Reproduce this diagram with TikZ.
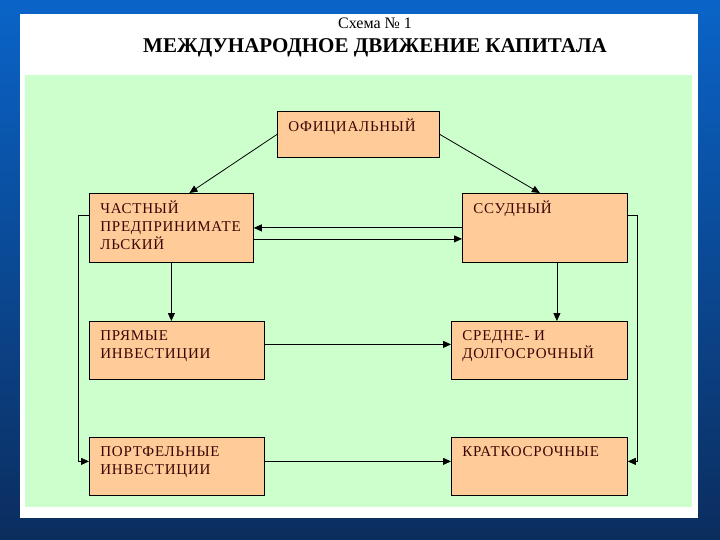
\documentclass[tikz,border=0pt]{standalone}
\usepackage{fontspec}
\setmainfont{Liberation Serif}
\newfontfamily\shriftblok[LetterSpace=5]{Liberation Serif}
\usepackage{xcolor}
\usepackage{tikz}
\usetikzlibrary{arrows.meta,calc}
\definecolor{sinii}{HTML}{0A64C8}
\definecolor{temnosinii}{HTML}{0B2D5E}
\definecolor{zelenyi}{HTML}{CCFFCC}
\definecolor{persik}{HTML}{FFCC99}
\definecolor{bordo}{HTML}{3A0505}
\newcommand{\yach}[3]{\parbox[c][#2][t]{#1}{\rule{0pt}{12pt}#3}}

\begin{document}
\begin{tikzpicture}[x=1pt,y=-1pt,
  blok/.style={draw=black,fill=persik,line width=0.8pt,anchor=north west,
               inner xsep=11pt,inner ysep=7pt,text=bordo,
               font={\shriftblok\fontsize{15}{18}\selectfont}},
  strelka/.style={-{Triangle[length=8pt,width=7pt]},line width=0.8pt}
]
% fon
\useasboundingbox (0,0) rectangle (720,540);
\shade[top color=sinii,bottom color=temnosinii] (0,0) rectangle (720,540);
\fill[white] (20,14) rectangle (698,518);
\fill[zelenyi] (25,75) rectangle (692,507);
\node[font=\fontsize{16}{18}\selectfont,anchor=base] (nomer) at (375,29) {Схема № 1};
\node[font=\bfseries\fontsize{21}{24}\selectfont,anchor=base] (zagolovok) at (375,53) {МЕЖДУНАРОДНОЕ ДВИЖЕНИЕ КАПИТАЛА};

% bloki
\node[blok] (ofic) at (277,111) {\yach{140pt}{32pt}{ОФИЦИАЛЬНЫЙ}};
\node[blok] (chast) at (89,193) {\yach{142pt}{55pt}{ЧАСТНЫЙ\\ПРЕДПРИНИМАТЕ\\ЛЬСКИЙ}};
\node[blok] (ssud) at (462,193) {\yach{143pt}{55pt}{ССУДНЫЙ}};
\node[blok] (pryam) at (89,321) {\yach{153pt}{44pt}{ПРЯМЫЕ\\ИНВЕСТИЦИИ}};
\node[blok] (portf) at (89,437) {\yach{153pt}{44pt}{ПОРТФЕЛЬНЫЕ\\ИНВЕСТИЦИИ}};
\node[blok] (sredn) at (451,321) {\yach{154pt}{44pt}{СРЕДНЕ- И\\ДОЛГОСРОЧНЫЙ}};
\node[blok] (krat) at (451,437) {\yach{154pt}{44pt}{КРАТКОСРОЧНЫЕ}};

% strelki
\draw[strelka] (ofic.west) -- ([xshift=18pt]chast.north);
\draw[strelka] (ofic.east) -- ([xshift=-5pt]ssud.north);
\draw[strelka] (chast.east -| ssud.west) -- (chast.east);
\draw[strelka] ([yshift=-11pt]chast.east) -- ([yshift=-11pt]chast.east -| ssud.west);
\draw[strelka] (chast.south) -- (chast.south |- pryam.north);
\draw[strelka] ([xshift=12pt]ssud.south) -- ([xshift=12pt]ssud.south |- sredn.north);
\draw[strelka] ([yshift=12pt]chast.west) -- ++(-11,0) |- ([yshift=5pt]portf.west);
\draw[strelka] ([yshift=12pt]ssud.east) -- ++(10,0) |- ([yshift=5pt]krat.east);
\draw[strelka] ([yshift=6pt]pryam.east) -- ([yshift=6pt]pryam.east -| sredn.west);
\draw[strelka] ([yshift=5pt]portf.east) -- ([yshift=5pt]portf.east -| krat.west);
\end{tikzpicture}
\end{document}
